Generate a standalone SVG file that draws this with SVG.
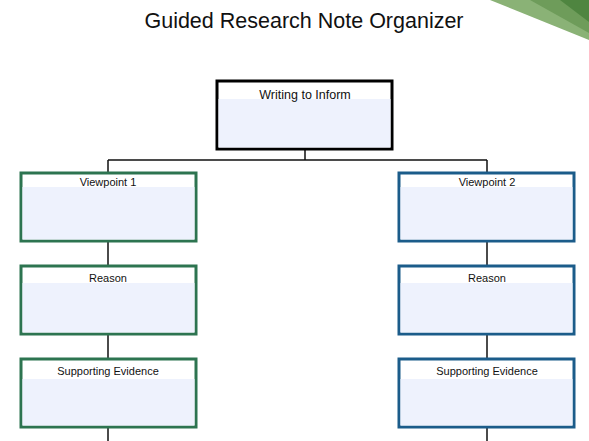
<svg xmlns="http://www.w3.org/2000/svg" width="589" height="441" viewBox="0 0 589 441">
<style>
.t{font-family:"Liberation Sans",Arial,sans-serif;fill:#111;text-anchor:middle}
.lbl{font-size:11px}
.fill{fill:#eef2fd}
.g{fill:#fff;stroke:#2d7450;stroke-width:3}
.b{fill:#fff;stroke:#1b5c8a;stroke-width:3}
.k{fill:#fff;stroke:#000;stroke-width:3}
.c{stroke:#111;stroke-width:1.5;fill:none}
</style>
<rect width="589" height="441" fill="#fff"/>
<g id="corner">
<polygon points="490,0 589,0 589,40" fill="#8ab276"/>
<polygon points="530,0 589,0 589,33" fill="#6e9c5a"/>
<polygon points="560,0 589,0 589,22" fill="#4f8540"/>
</g>
<text class="t" x="304" y="28" font-size="21.5">Guided Research Note Organizer</text>
<g id="connectors">
<path class="c" d="M305,150 V160 M108,160 H487 M108,160 V172 M487,160 V172 M108,242 V265 M108,335 V358 M108,428 V441 M487,242 V265 M487,335 V358 M487,428 V441"/>
</g>
<g id="top">
<rect class="k" x="217" y="81" width="175" height="68"/>
<rect class="fill" x="218.5" y="99" width="172" height="48.5"/>
<text class="t" x="305" y="99" font-size="12.5">Writing to Inform</text>
</g>
<g id="vp1">
<rect class="g" x="21" y="173" width="175" height="68"/>
<rect class="fill" x="22.5" y="187" width="172" height="52.5"/>
<text class="t lbl" x="108" y="186">Viewpoint 1</text>
</g>
<g id="reason1">
<rect class="g" x="21" y="266" width="175" height="68"/>
<rect class="fill" x="22.5" y="283" width="172" height="49.5"/>
<text class="t lbl" x="108" y="282">Reason</text>
</g>
<g id="se1">
<rect class="g" x="21" y="359" width="175" height="68"/>
<rect class="fill" x="22.5" y="379" width="172" height="46.5"/>
<text class="t lbl" x="108" y="375">Supporting Evidence</text>
</g>
<g id="vp2">
<rect class="b" x="399" y="173" width="175" height="68"/>
<rect class="fill" x="400.5" y="187" width="172" height="52.5"/>
<text class="t lbl" x="487" y="186">Viewpoint 2</text>
</g>
<g id="reason2">
<rect class="b" x="399" y="266" width="175" height="68"/>
<rect class="fill" x="400.5" y="283" width="172" height="49.5"/>
<text class="t lbl" x="487" y="282">Reason</text>
</g>
<g id="se2">
<rect class="b" x="399" y="359" width="175" height="68"/>
<rect class="fill" x="400.5" y="379" width="172" height="46.5"/>
<text class="t lbl" x="487" y="375">Supporting Evidence</text>
</g>
</svg>
